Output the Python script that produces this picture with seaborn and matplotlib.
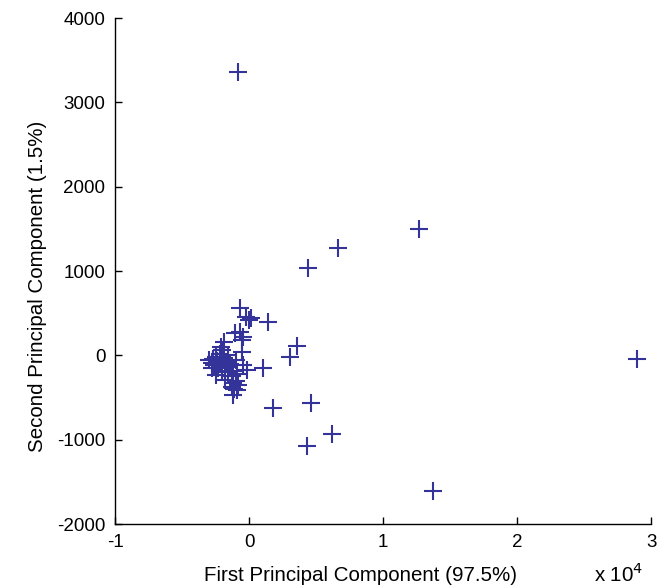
import matplotlib
matplotlib.use('Agg')
import matplotlib.pyplot as plt
import seaborn as sns
import pandas as pd

# Scores; first component in units of 10^4
pc1 = [-0.082, 2.895, 1.269, 0.664, 0.44, 1.373, 0.619, 0.433, 0.463, 0.177,
       0.36, 0.306, 0.107, 0.144, 0.015, -0.067, -0.02, 0.0,
       -0.104, -0.067, -0.045, -0.19, -0.054, -0.054, -0.017, -0.045,
       -0.30, -0.28, -0.27, -0.26, -0.25, -0.24, -0.23, -0.22, -0.22, -0.21,
       -0.20, -0.20, -0.19, -0.18, -0.17, -0.16, -0.16, -0.15, -0.14, -0.13,
       -0.12, -0.12, -0.11, -0.10, -0.09, -0.18, -0.25, -0.28, -0.21, -0.13,
       -0.12, -0.09, -0.08, -0.10]
pc2 = [3357, -47, 1495, 1269, 1032, -1613, -937, -1080, -560, -621,
       115, -20, -146, 395, 439, 560, 450, 420,
       261, 273, 214, 154, 178, 39, -178, -119,
       -60, -90, -40, -120, -20, -70, -150, 20, -100, -60,
       -180, 60, -30, -130, -80, -200, 0, -140, -100, -250,
       -180, -330, -400, -300, -220, -297, -230, -150, 95, -376,
       -474, -415, -350, -60]

df = pd.DataFrame({'pc1': pc1, 'pc2': pc2})

sns.set_style('white')
plt.rcParams['font.family'] = ['Liberation Sans', 'DejaVu Sans']
plt.rcParams['axes.unicode_minus'] = False
plt.rcParams['text.color'] = 'black'
plt.rcParams['axes.labelcolor'] = 'black'
plt.rcParams['xtick.color'] = 'black'
plt.rcParams['ytick.color'] = 'black'

fig = plt.figure(figsize=(6.66, 5.87), dpi=100)
ax = fig.add_axes([0.1727, 0.1073, 0.805, 0.862])

sns.scatterplot(data=df, x='pc1', y='pc2', marker='+', s=170, color='#333399',
                linewidth=1.5, ax=ax)

ax.set_xlim(-1, 3)
ax.set_ylim(-2000, 4000)
ax.set_xticks([-1, 0, 1, 2, 3])
ax.set_xticklabels(['-1', '0', '1', '2', '3'])
ax.set_yticks(range(-2000, 4001, 1000))
ax.tick_params(direction='in', length=5, width=1, labelsize=13.5,
               bottom=True, left=True, pad=7)
sns.despine(ax=ax)
for s in ['left', 'bottom']:
    ax.spines[s].set_color('black')
    ax.spines[s].set_linewidth(1)

ax.set_xlabel('First Principal Component (97.5%)', fontsize=14.8, labelpad=11)
ax.set_ylabel('Second Principal Component (1.5%)', fontsize=14.8, labelpad=7)
ax.xaxis.label.set_x(0.457)
ax.yaxis.label.set_y(0.47)
ax.text(0.94, -0.076, r'x 10$^4$', transform=ax.transAxes, fontsize=14.8,
        ha='center', va='top')

fig.savefig('out.png', dpi=100)
